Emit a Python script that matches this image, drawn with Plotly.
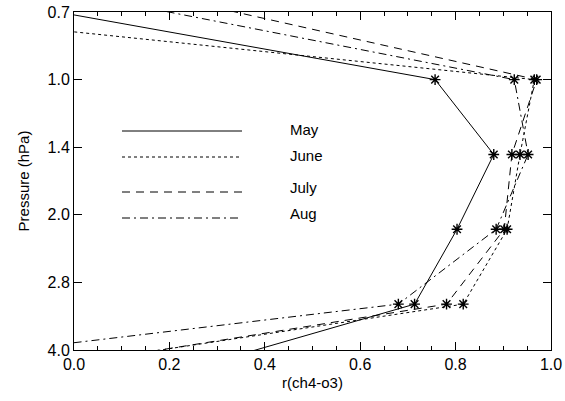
import math
import plotly.graph_objects as go

# Pressure levels (hPa)
pressure = [0.681, 1.0, 1.468, 2.154, 3.162, 4.642]

# Correlation r(ch4-o3) per month
may = [-0.12, 0.757, 0.880, 0.803, 0.714, 0.17]
june = [-0.55, 0.965, 0.935, 0.908, 0.816, -0.22]
july = [0.27, 0.970, 0.918, 0.902, 0.781, -0.20]
aug = [0.12, 0.923, 0.952, 0.885, 0.680, -0.64]

months = ["May", "June", "July", "Aug"]
series = [may, june, july, aug]
dashes = ["solid", "dot", "8px,6px", "8px,4px,2px,4px"]

y_tickvals = [0.7071, 1.0, 1.4142, 2.0, 2.8284, 4.0]
y_ticktext = ["0.7", "1.0", "1.4", "2.0", "2.8", "4.0"]
x_tickvals = [0.0, 0.2, 0.4, 0.6, 0.8, 1.0]
x_ticktext = ["0.0", "0.2", "0.4", "0.6", "0.8", "1.0"]

FONT = "Liberation Sans, Arial, Helvetica, sans-serif"

W, H = 565, 401
# plot-area edges in window pixels
L, R, T, B = 74, 551, 12, 350

fig = go.Figure()
for name, vals, dsh in zip(months, series, dashes):
    fig.add_trace(go.Scatter(
        x=vals, y=pressure, mode="lines+markers", name=name,
        line=dict(color="black", width=1, dash=dsh),
        marker=dict(symbol="asterisk-open", size=9, color="black",
                    line=dict(color="black", width=1.4)),
        showlegend=False, hoverinfo="skip",
    ))

def px(xp):
    return (xp - L) / (R - L)
def py(yp):
    return (B - yp) / (B - T)

leg_line_y = [131, 157, 192, 218]
leg_text_y = [129, 155, 187, 214]
shapes = []
annots = []
for name, dsh, ly, ty in zip(months, dashes, leg_line_y, leg_text_y):
    shapes.append(dict(type="line", xref="paper", yref="paper",
                       x0=px(122), x1=px(242), y0=py(ly), y1=py(ly),
                       line=dict(color="black", width=1, dash=dsh)))
    annots.append(dict(text=name, xref="paper", yref="paper",
                       x=px(288), y=py(ty), xanchor="left", yanchor="middle",
                       showarrow=False, font=dict(size=15, color="black", family=FONT)))

fig.update_layout(
    width=W, height=H,
    margin=dict(l=L, r=W - R, t=T, b=H - B, autoexpand=False),
    plot_bgcolor="white", paper_bgcolor="white",
    font=dict(family=FONT, size=15, color="black"),
    shapes=shapes, annotations=annots,
    xaxis=dict(
        range=[0, 1], tickvals=x_tickvals, ticktext=x_ticktext,
        ticks="inside", ticklen=8, tickcolor="black", tickwidth=1,
        showline=True, linecolor="black", linewidth=1, mirror="allticks",
        showgrid=False, zeroline=False, automargin=False, ticklabeloverflow="allow",
        minor=dict(ticks="inside", ticklen=4, dtick=0.05, tickcolor="black", showgrid=False),
        title=dict(text="r(ch4-o3)", font=dict(size=15), standoff=5),
        tickfont=dict(size=16),
    ),
    yaxis=dict(
        type="log", range=[math.log10(4.0), math.log10(0.7071)],
        tickvals=y_tickvals, ticktext=y_ticktext,
        ticks="inside", ticklen=8, tickcolor="black", tickwidth=1,
        showline=True, linecolor="black", linewidth=1, mirror="allticks",
        showgrid=False, zeroline=False, automargin=False, ticklabeloverflow="allow",
        title=dict(text="Pressure (hPa)", font=dict(size=15), standoff=14),
        tickfont=dict(size=16),
    ),
)

fig.write_html(
    "out.html",
    config={"displayModeBar": False, "staticPlot": True},
    post_script="document.body.style.margin='0';document.body.style.overflow='hidden';",
)
